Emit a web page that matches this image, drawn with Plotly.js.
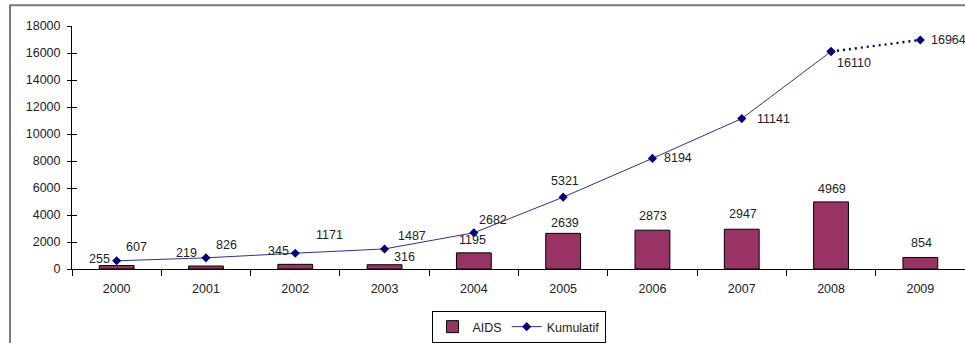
<!DOCTYPE html>
<html>
<head>
<meta charset="utf-8">
<script src="https://cdn.plot.ly/plotly-3.0.1.min.js"></script>
<style>
  html, body { margin: 0; padding: 0; background: #fff; }
  #chart { width: 965px; height: 343px; }
</style>
</head>
<body>
<div id="chart"></div>
<script>
// Yearly AIDS cases and the cumulative total
const years = ['2000', '2001', '2002', '2003', '2004', '2005', '2006', '2007', '2008', '2009'];
const aidsCases = [255, 219, 345, 316, 1195, 2639, 2873, 2947, 4969, 854];
const cumulative = [607, 826, 1171, 1487, 2682, 5321, 8194, 11141, 16110, 16964];
const yTicks = [0, 2000, 4000, 6000, 8000, 10000, 12000, 14000, 16000, 18000];

// label nudges (pixels) so the numbers sit where the original labels were placed
const barLabelShift = [[-17, 7], [-19, 13], [-17, 13], [20, 8], [-1, 13], [2, 10], [1, 14], [1, 15], [1, 13], [1, 14]];
const lineLabelShift = [[20, 14], [21, 13], [34, 18], [27, 13], [19, 13], [2, 16], [26, 0], [32, 0], [23, -11], [9, 0]];

const FONT = 'Liberation Sans, Arial, sans-serif';
const lastSolid = 8; // the final year is drawn as a dotted projection

const traces = [
  {
    type: 'bar', name: 'AIDS', x: years, y: aidsCases,
    marker: { color: '#993366', line: { color: '#000', width: 1 } },
    width: 0.39, hoverinfo: 'x+y'
  },
  {
    type: 'scatter', mode: 'lines+markers', name: 'Kumulatif',
    x: years.slice(0, lastSolid + 1), y: cumulative.slice(0, lastSolid + 1),
    line: { color: '#2e2ea0', width: 1 },
    marker: { symbol: 'diamond', size: 7, color: '#000080' }
  },
  {
    type: 'scatter', mode: 'lines+markers', name: 'Kumulatif', showlegend: false,
    x: years.slice(lastSolid), y: cumulative.slice(lastSolid),
    line: { color: '#000080', width: 2.4, dash: '2px,4px' },
    marker: { symbol: 'diamond', size: 7, color: '#000080' }
  }
];

// category axes place annotations by category index
const annotations = [];
years.forEach((yr, i) => {
  annotations.push({
    x: i, y: aidsCases[i], xref: 'x', yref: 'y', text: String(aidsCases[i]),
    showarrow: false, xanchor: 'center', yanchor: 'middle',
    xshift: barLabelShift[i][0], yshift: barLabelShift[i][1],
    font: { family: FONT, size: 12.5, color: '#222' }
  });
  const last = i === years.length - 1;
  annotations.push({
    x: i, y: cumulative[i], xref: 'x', yref: 'y', text: String(cumulative[i]),
    showarrow: false, xanchor: last ? 'left' : 'center', yanchor: 'middle',
    xshift: lineLabelShift[i][0], yshift: lineLabelShift[i][1],
    font: { family: FONT, size: 12.5, color: '#222' }
  });
});

const layout = {
  width: 965, height: 343,
  margin: { l: 72, r: 0, t: 26, b: 72 },
  paper_bgcolor: '#fff', plot_bgcolor: '#fff',
  font: { family: FONT, size: 12.5, color: '#222' },
  showlegend: true,
  legend: {
    orientation: 'h', x: 0.5, xanchor: 'center', y: -0.175, yanchor: 'top',
    bgcolor: '#fff', bordercolor: '#000', borderwidth: 1,
    font: { family: FONT, size: 12.5, color: '#222' },
    itemwidth: 30, tracegroupgap: 0
  },
  bargap: 0.6,
  xaxis: {
    type: 'category', range: [-0.5, 9.5], fixedrange: true,
    showline: true, linecolor: '#000', linewidth: 1,
    ticks: 'outside', tickson: 'boundaries', ticklen: 6, tickcolor: '#000',
    ticklabelstandoff: 8,
    showgrid: false, zeroline: false,
    tickfont: { family: FONT, size: 12.5, color: '#222' }
  },
  yaxis: {
    range: [0, 18000], tickvals: yTicks, tickformat: 'd', fixedrange: true,
    showline: true, linecolor: '#000', linewidth: 1,
    ticks: 'outside', ticklen: 4, tickcolor: '#000',
    ticklabelstandoff: 4,
    showgrid: false, zeroline: false,
    tickfont: { family: FONT, size: 12.5, color: '#222' }
  },
  // second copy of the value axis only carries the inner half of the cross ticks
  yaxis2: {
    overlaying: 'y', side: 'left', range: [0, 18000], tickvals: yTicks,
    ticks: 'inside', ticklen: 5, tickcolor: '#000',
    showticklabels: false, showline: false, showgrid: false, zeroline: false, fixedrange: true
  },
  annotations: annotations,
  shapes: [
    {
      type: 'rect', xref: 'paper', yref: 'paper',
      x0: -0.0694, x1: 1.05, y0: -0.4, y1: 1.0857,
      line: { color: '#7a7a7a', width: 2 }, fillcolor: 'rgba(0,0,0,0)', layer: 'below'
    }
  ]
};

traces.push({ type: 'scatter', x: [years[0]], y: [0], yaxis: 'y2', mode: 'markers', marker: { opacity: 0 }, showlegend: false, hoverinfo: 'skip' });

Plotly.newPlot('chart', traces, layout, { displayModeBar: false, staticPlot: true });
</script>
</body>
</html>
